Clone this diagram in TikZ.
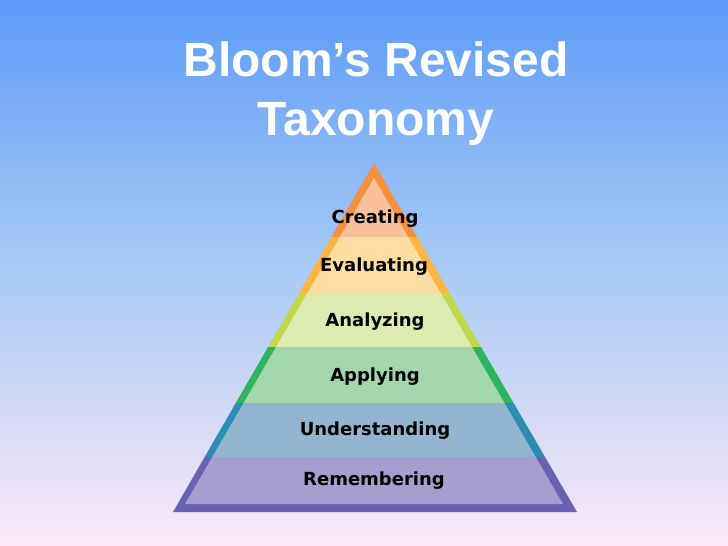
\documentclass[tikz,border=0pt]{standalone}
\usepackage{fontspec}
\setmainfont{DejaVu Sans}
\newfontfamily\titlefont{Liberation Sans}
\begin{document}
\begin{tikzpicture}[x=1pt,y=-1pt,
  lvl/.style={font=\fontsize{18}{20}\selectfont\bfseries, text=black, inner sep=0pt},
  ttl/.style={font=\titlefont\fontsize{48}{59}\selectfont\bfseries, text=white, align=center, inner sep=0pt}]
\definecolor{bgtop}{HTML}{5D9CF8}
\definecolor{bgmid}{HTML}{A9CBF3}
\definecolor{bgbot}{HTML}{FCE8F8}
\definecolor{cO}{HTML}{F4913F}\definecolor{cI}{HTML}{F9C19A}
\definecolor{eO}{HTML}{FBB540}\definecolor{eI}{HTML}{FDDDA2}
\definecolor{anO}{HTML}{BFD84E}\definecolor{anI}{HTML}{DEEBB0}
\definecolor{apO}{HTML}{2EB45E}\definecolor{apI}{HTML}{A3D6AA}
\definecolor{uO}{HTML}{2C8DB4}\definecolor{uI}{HTML}{93B5D0}
\definecolor{rO}{HTML}{6962B2}\definecolor{rI}{HTML}{A59ECF}
\useasboundingbox (0,0) rectangle (728,546);
\shade[top color=bgtop, bottom color=bgbot, middle color=bgmid] (0,0) rectangle (728,546);
% outer triangle bands
\begin{scope}
\clip (374,163) -- (577,512) -- (173,512) -- cycle;
\fill[cO] (150,150) rectangle (600,237);
\fill[eO] (150,237) rectangle (600,293);
\fill[anO] (150,293) rectangle (600,347);
\fill[apO] (150,347) rectangle (600,403);
\fill[uO] (150,403) rectangle (600,457);
\fill[rO] (150,457) rectangle (600,520);
\end{scope}
% inner triangle bands
\begin{scope}
\clip (374,178) -- (563,504) -- (185,504) -- cycle;
\fill[cI] (150,150) rectangle (600,237);
\fill[eI] (150,237) rectangle (600,293);
\fill[anI] (150,293) rectangle (600,347);
\fill[apI] (150,347) rectangle (600,403);
\fill[uI] (150,403) rectangle (600,457);
\fill[rI] (150,457) rectangle (600,520);
\end{scope}
\node[ttl] (title) at (376,93.5) {Bloom’s Revised\\Taxonomy};
\node[lvl] (creating) at (375,219) {Creating};
\node[lvl] (evaluating) at (374,267) {Evaluating};
\node[lvl] (analyzing) at (375,322) {Analyzing};
\node[lvl] (applying) at (375,377) {Applying};
\node[lvl] (understanding) at (375,431) {Understanding};
\node[lvl] (remembering) at (374,481) {Remembering};
\end{tikzpicture}
\end{document}
